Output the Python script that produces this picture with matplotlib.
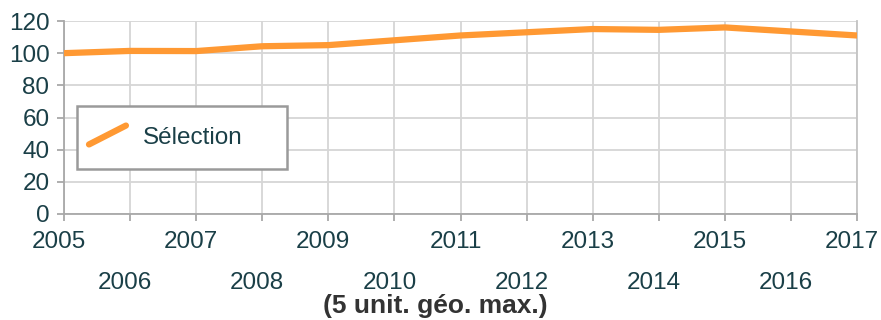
import matplotlib.pyplot as plt
import matplotlib.transforms as mtransforms
from matplotlib.legend_handler import HandlerLine2D
from matplotlib.lines import Line2D
from matplotlib.patches import Rectangle

plt.rcParams['font.family'] = ['Liberation Sans', 'DejaVu Sans']

years = list(range(2005, 2018))
selection = [100, 101.4, 101.3, 104.3, 105, 108, 111, 113, 115, 114.5, 116, 113.5, 111]
yticks = [0, 20, 40, 60, 80, 100, 120]

orange = '#ff9933'
txt = '#1a3f47'
grid = '#d6d6d6'
W, H = 881, 320


class DiagonalHandler(HandlerLine2D):
    # legend key drawn as a rising diagonal stroke
    def create_artists(self, legend, orig_handle, xdescent, ydescent,
                       width, height, fontsize, trans):
        cy = -ydescent + height / 2
        line = Line2D([-xdescent, -xdescent + width],
                      [cy - 6.8, cy + 6.8],
                      color=orig_handle.get_color(),
                      linewidth=orig_handle.get_linewidth(),
                      solid_capstyle='round', transform=trans)
        return [line]


fig = plt.figure(figsize=(W / 100, H / 100), dpi=100)
ax = fig.add_axes([64 / W, 1 - 214 / H, (857 - 64) / W, (214 - 21) / H])

line, = ax.plot(years, selection, color=orange, lw=4.5, solid_capstyle='round',
                solid_joinstyle='round', label='Sélection', zorder=3)

ax.set_xlim(2005, 2017)
ax.set_ylim(0, 120)
ax.set_yticks(yticks)
ax.set_xticks(years)
ax.set_xticklabels([str(y) for y in years])
ax.grid(True, color=grid, lw=1.3)
ax.set_axisbelow(True)

for s in ax.spines.values():
    s.set_color('#c4c4c4')
    s.set_linewidth(1.3)
ax.spines['top'].set_visible(False)
ax.spines['left'].set_color('#a8a8a8')
ax.spines['bottom'].set_color('#a8a8a8')

ax.tick_params(axis='both', colors='#a8a8a8', labelcolor=txt, labelsize=17.5,
               length=5, width=1.3)
ax.tick_params(axis='y', pad=5.5)
for i, t in enumerate(ax.xaxis.get_major_ticks()):
    t.set_pad(7.5 if i % 2 == 0 else 36.6)

# year labels sit a few pixels left of their ticks
shift = mtransforms.ScaledTranslation(-5 / 100, 0, fig.dpi_scale_trans)
for lab in ax.get_xticklabels():
    lab.set_transform(lab.get_transform() + shift)

# axis caption below the staggered year labels
fig.text(435 / W, 1 - 306.5 / H, '(5 unit. géo. max.)', fontsize=19, fontweight='bold',
         color='#333333', ha='center', va='center')

# legend box
ax.add_patch(Rectangle((77 / W, 1 - 169 / H), 210 / W, 63 / H, transform=fig.transFigure,
                       facecolor='white', edgecolor='#9a9a9a', lw=1.8, zorder=4,
                       clip_on=False))
leg = ax.legend(handles=[line], loc='center left',
                bbox_to_anchor=(89 / W, 1 - 137.5 / H), bbox_transform=fig.transFigure,
                handler_map={line: DiagonalHandler()}, fontsize=17.5,
                frameon=False, borderpad=0, handlelength=1.52, handletextpad=0.7,
                borderaxespad=0)
leg.set_zorder(5)
for t in leg.get_texts():
    t.set_color(txt)

fig.savefig('out.png', dpi=100)
